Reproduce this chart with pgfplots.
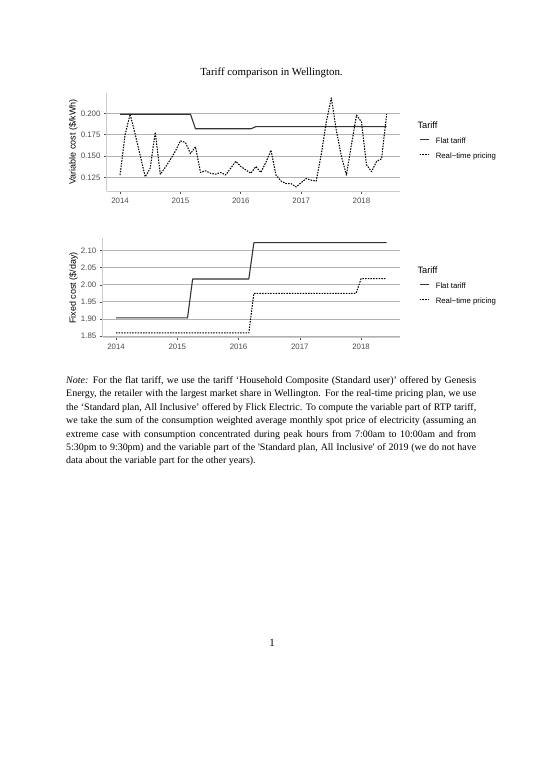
\documentclass[border=0pt]{standalone}
\usepackage{fontspec}
\setmainfont{Liberation Serif}
\setsansfont{Liberation Sans}
\usepackage{pgfplots}
\pgfplotsset{compat=1.18}
\usepackage{pgfplotstable}

% monthly values, Jan 2014 - Jun 2018
\pgfplotstableread{
year     flat    rtp
2014.000 0.199 0.128
2014.083 0.199 0.175
2014.167 0.199 0.199
2014.250 0.199 0.176
2014.333 0.199 0.151
2014.417 0.199 0.126
2014.500 0.199 0.136
2014.583 0.199 0.178
2014.667 0.199 0.129
2014.750 0.199 0.137
2014.833 0.199 0.146
2014.917 0.199 0.156
2015.000 0.199 0.168
2015.083 0.199 0.166
2015.167 0.199 0.153
2015.250 0.182 0.161
2015.333 0.182 0.131
2015.417 0.182 0.133
2015.500 0.182 0.130
2015.583 0.182 0.129
2015.667 0.182 0.131
2015.750 0.182 0.128
2015.833 0.182 0.136
2015.917 0.182 0.144
2016.000 0.182 0.138
2016.083 0.182 0.134
2016.167 0.182 0.130
2016.250 0.1845 0.138
2016.333 0.1845 0.131
2016.417 0.1845 0.143
2016.500 0.1845 0.157
2016.583 0.1845 0.128
2016.667 0.1845 0.121
2016.750 0.1845 0.118
2016.833 0.1845 0.118
2016.917 0.1845 0.114
2017.000 0.1845 0.119
2017.083 0.1845 0.124
2017.167 0.1845 0.122
2017.250 0.1845 0.121
2017.333 0.1845 0.152
2017.417 0.1845 0.190
2017.500 0.1845 0.218
2017.583 0.1845 0.180
2017.667 0.1845 0.150
2017.750 0.1845 0.128
2017.833 0.1845 0.163
2017.917 0.1845 0.198
2018.000 0.1845 0.190
2018.083 0.1845 0.140
2018.167 0.1845 0.132
2018.250 0.1845 0.144
2018.333 0.1845 0.147
2018.417 0.1845 0.199
}\variablecost

\pgfplotstableread{
year     flat   rtp
2014.000 1.903 1.859
2015.167 1.903 1.859
2015.250 2.017 1.859
2016.167 2.017 1.859
2016.250 2.1235 1.975
2017.917 2.1235 1.975
2018.000 2.1235 2.018
2018.417 2.1235 2.018
}\fixedcost

\definecolor{gridgray}{gray}{0.70}
\definecolor{axgray}{gray}{0.80}
\definecolor{labgray}{gray}{0.30}

\pgfplotsset{
  ggpanel/.style={
    scale only axis,
    axis lines=left,
    axis line style={-, draw=axgray, line width=0.8bp},
    ymajorgrids,
    grid style={gridgray, line width=0.85bp},
    tick align=outside,
    major tick length=2.7bp,
    tick style={labgray, line width=0.6bp},
    xmin=2013.779, xmax=2018.638,
    xtick={2014,2015,2016,2017,2018},
    xticklabel style={/pgf/number format/1000 sep={}},
    tick label style={font=\fontsize{7.9}{9}\sffamily, text=labgray},
    /pgf/number format/assume math mode=true,
    legend style={draw=none, fill=none, inner sep=0pt, row sep=8.4bp,
      column sep=6.5bp,
      nodes={font=\fontsize{7.8}{9}\sffamily, inner sep=0pt, text height=5.6bp, text depth=1.6bp}},
    legend cell align=left,
    legend image code/.code={\draw[##1] (0bp,2bp) -- (9bp,2bp);},
    every axis plot/.append style={line join=round},
  },
  flatline/.style={black!80, line width=1.1bp},
  rtpline/.style={black, line width=1.05bp, dash pattern=on 1.5bp off 1.2bp},
}

\begin{document}
\begin{tikzpicture}[x=1bp, y=1bp]
\useasboundingbox[fill=white] (0,0) rectangle (543,768);

% title
\node[font=\fontsize{10.9}{13}\selectfont] at (271.5,695) {Tariff comparison in Wellington.};

% top panel: variable cost
\begin{axis}[ggpanel,
  at={(106.7bp,576.5bp)}, anchor=south west,
  width=293.3bp, height=98.5bp,
  ymin=0.1088, ymax=0.2238,
  ytick={0.125,0.150,0.175,0.200},
  yticklabel style={/pgf/number format/.cd, fixed, fixed zerofill, precision=3},
  legend style={at={(1.0648,0.431)}, anchor=west},
]
\addplot[flatline] table[x=year, y=flat] {\variablecost};
\addlegendentry{Flat tariff}
\addplot[rtpline] table[x=year, y=rtp] {\variablecost};
\addlegendentry{Real\textminus time pricing}
\end{axis}
\node[rotate=90, font=\fontsize{9}{10}\sffamily] at (73.2,626) {Variable cost (\$/kWh)};
\node[anchor=west, font=\fontsize{9.3}{10}\sffamily] at (414,643) {Tariff};

% bottom panel: fixed cost
\begin{axis}[ggpanel,
  at={(102.5bp,430.5bp)}, anchor=south west,
  width=297.7bp, height=99.4bp,
  ymin=1.8456, ymax=2.137,
  ytick={1.85,1.90,1.95,2.00,2.05,2.10},
  yticklabel style={/pgf/number format/.cd, fixed, fixed zerofill, precision=2},
  legend style={at={(1.063,0.4376)}, anchor=west},
]
\addplot[flatline] table[x=year, y=flat] {\fixedcost};
\addlegendentry{Flat tariff}
\addplot[rtpline] table[x=year, y=rtp] {\fixedcost};
\addlegendentry{Real\textminus time pricing}
\end{axis}
\node[rotate=90, font=\fontsize{9}{10}\sffamily] at (73.5,480) {Fixed cost (\$/day)};
\node[anchor=west, font=\fontsize{9.3}{10}\sffamily] at (414,498) {Tariff};

% note
\node[anchor=north west, inner sep=0pt, text width=410bp, align=justify,
  font=\fontsize{10}{13.5}\selectfont] at (66,392) {%
\textit{Note:} For the flat tariff, we use the tariff ‘Household Composite (Standard user)’ offered by Genesis\linebreak
Energy, the retailer with the largest market share in Wellington. For the real-time pricing plan, we use\linebreak
the ‘Standard plan, All Inclusive’ offered by Flick Electric. To compute the variable part of RTP tariff,\linebreak
we take the sum of the consumption weighted average monthly spot price of electricity (assuming an\linebreak
extreme case with consumption concentrated during peak hours from 7:00am to 10:00am and from\linebreak
5:30pm to 9:30pm) and the variable part of the \textquotesingle Standard plan, All Inclusive\textquotesingle{} of 2019 (we do not have\linebreak
data about the variable part for the other years).};

% page number
\node[font=\fontsize{10.9}{13}\selectfont] at (272,125) {1};
\end{tikzpicture}
\end{document}
